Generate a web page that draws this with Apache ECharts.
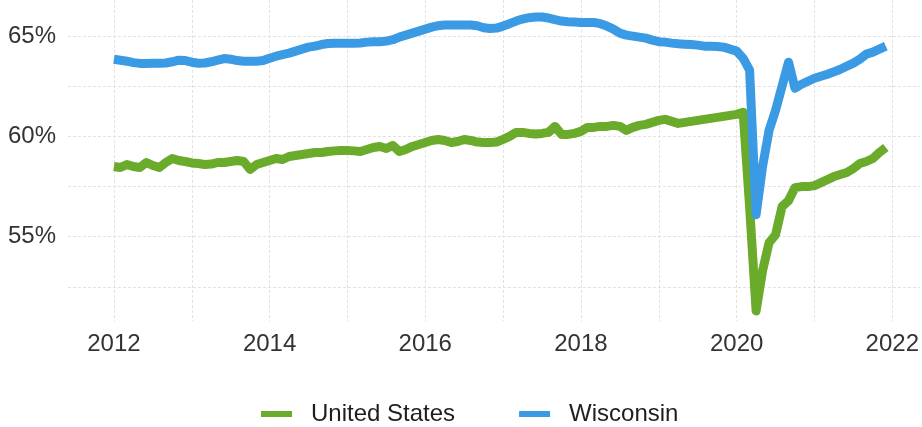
<!DOCTYPE html>
<html>
<head>
<meta charset="utf-8">
<script src="https://cdn.jsdelivr.net/npm/echarts@6/dist/echarts.min.js"></script>
<style>
  html, body { margin: 0; padding: 0; background: #fff; }
  #chart { width: 922px; height: 427px; }
</style>
</head>
<body>
<div id="chart"></div>
<script>
// monthly values, Jan 2012 .. Dec 2021
const startYear = 2012
const seriesNames = ['United States', 'Wisconsin']
const usValues = [
  58.5, 58.45, 58.6, 58.5, 58.45, 58.7, 58.55, 58.45, 58.7, 58.9, 58.8, 58.75,
  58.68, 58.65, 58.6, 58.62, 58.7, 58.7, 58.75, 58.8, 58.75, 58.35, 58.6, 58.7,
  58.8, 58.9, 58.85, 59.0, 59.05, 59.1, 59.15, 59.2, 59.2, 59.25, 59.28, 59.3,
  59.3, 59.28, 59.25, 59.35, 59.45, 59.5, 59.4, 59.55, 59.25, 59.35, 59.5, 59.6,
  59.7, 59.8, 59.85, 59.8, 59.7, 59.75, 59.85, 59.8, 59.72, 59.7, 59.7, 59.72,
  59.85, 60.0, 60.2, 60.2, 60.15, 60.12, 60.15, 60.2, 60.5, 60.1, 60.1, 60.15,
  60.25, 60.45, 60.45, 60.5, 60.5, 60.55, 60.5, 60.3, 60.45, 60.55, 60.6, 60.7,
  60.8, 60.85, 60.75, 60.65, 60.7, 60.75, 60.8, 60.85, 60.9, 60.95, 61.0, 61.05,
  61.1, 61.2, 56.5, 51.3, 53.3, 54.7, 55.1, 56.5, 56.8, 57.45, 57.5, 57.5,
  57.55, 57.7, 57.85, 58.0, 58.1, 58.2, 58.4, 58.65, 58.75, 58.9, 59.2, 59.45
]
const wiValues = [
  63.85, 63.8, 63.75, 63.68, 63.64, 63.64, 63.65, 63.65, 63.66, 63.72, 63.8, 63.78,
  63.7, 63.65, 63.66, 63.72, 63.8, 63.88, 63.85, 63.78, 63.75, 63.75, 63.75, 63.78,
  63.9, 64.0, 64.08, 64.15, 64.25, 64.35, 64.45, 64.5, 64.58, 64.63, 64.65, 64.65,
  64.65, 64.65, 64.66, 64.7, 64.72, 64.72, 64.75, 64.82, 64.95, 65.05, 65.15, 65.25,
  65.35, 65.45, 65.52, 65.55, 65.55, 65.55, 65.55, 65.55, 65.52, 65.42, 65.38, 65.4,
  65.5, 65.62, 65.75, 65.85, 65.92, 65.95, 65.95, 65.9, 65.82, 65.75, 65.72, 65.7,
  65.68, 65.68, 65.68, 65.62, 65.5, 65.35, 65.15, 65.05, 65.0, 64.95, 64.9, 64.8,
  64.72, 64.7, 64.65, 64.62, 64.6, 64.58, 64.55, 64.5, 64.5, 64.48, 64.45, 64.35,
  64.25, 63.9, 63.3, 56.1, 58.5, 60.3, 61.3, 62.5, 63.7, 62.4, 62.6, 62.75,
  62.9, 63.0, 63.1, 63.22, 63.35, 63.5, 63.65, 63.85, 64.1, 64.2, 64.35, 64.5
]
const xTicks = [2012, 2013, 2014, 2015, 2016, 2017, 2018, 2019, 2020, 2021, 2022]
const xLabels = [2012, 2014, 2016, 2018, 2020, 2022]
const yTicks = [52.5, 55, 57.5, 60, 62.5, 65]
const yLabels = [55, 60, 65]
const colors = ['#6aab2b', '#3b9ae4']

const toPoints = (vals) => vals.map((v, i) => [startYear + i / 12, v])

const chart = echarts.init(document.getElementById('chart'))
const font = '"Liberation Sans", Arial, sans-serif'
const gridLine = { show: true, lineStyle: { color: '#e2e2e2', width: 1, type: [3, 2] } }

chart.setOption({
  animation: false,
  color: colors,
  textStyle: { fontFamily: font },
  grid: { left: 68, right: 0, top: 0, bottom: 106 },
  legend: {
    data: seriesNames,
    left: 256,
    top: 397,
    icon: 'rect',
    itemWidth: 31,
    itemHeight: 6,
    itemGap: 64,
    textStyle: { fontSize: 24, color: '#1e1e1e', fontFamily: font, padding: [0, 0, 0, 14] }
  },
  xAxis: {
    type: 'value',
    min: 2011.41,
    max: 2022.36,
    axisLine: { show: false },
    axisTick: { show: false, customValues: xTicks },
    axisLabel: { customValues: xLabels, fontSize: 24, color: '#333', margin: 11, formatter: (v) => String(v) },
    splitLine: gridLine
  },
  yAxis: {
    type: 'value',
    min: 50.8,
    max: 66.8,
    axisLine: { show: false },
    axisTick: { show: false, customValues: yTicks },
    axisLabel: { customValues: yLabels, fontSize: 24, color: '#333', margin: 12, formatter: (v) => v + '%' },
    splitLine: gridLine
  },
  series: [
    {
      name: seriesNames[0],
      type: 'line',
      data: toPoints(usValues),
      showSymbol: false,
      lineStyle: { width: 9, join: 'round' }
    },
    {
      name: seriesNames[1],
      type: 'line',
      data: toPoints(wiValues),
      showSymbol: false,
      lineStyle: { width: 9, join: 'round' }
    }
  ]
})
</script>
</body>
</html>
